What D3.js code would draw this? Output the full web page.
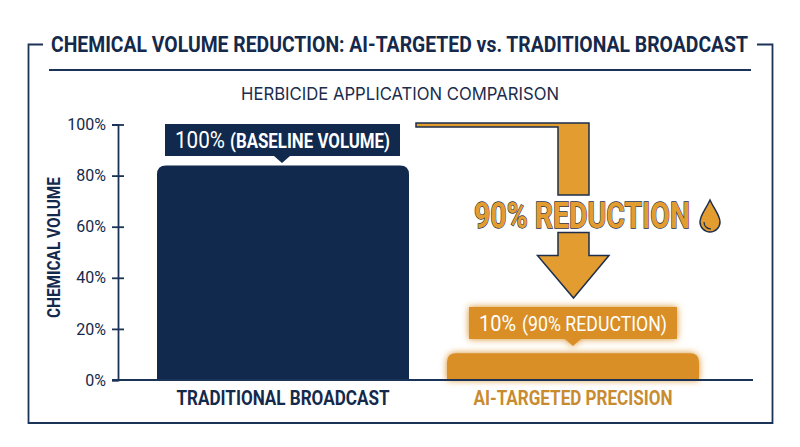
<!DOCTYPE html>
<html><head><meta charset="utf-8">
<script src="https://cdn.jsdelivr.net/npm/d3@7"></script>
<style>html,body{margin:0;background:#fff}svg{display:block}text{font-family:"Liberation Sans Narrow","Roboto",sans-serif}</style>
</head><body><svg id="c" width="800" height="447"></svg>
<script>
const categories=["TRADITIONAL BROADCAST","AI-TARGETED PRECISION"];
const barHeights=[84,10.5];
const barColors=["#10294d","#d98f27"];
const catColors=["#14294b","#c98b30"];
const ticks=[0,20,40,60,80,100];
const title="CHEMICAL VOLUME REDUCTION: AI-TARGETED vs. TRADITIONAL BROADCAST";
const subtitle="HERBICIDE APPLICATION COMPARISON";
const yTitle="CHEMICAL VOLUME";
const callout="90% REDUCTION";
const navy="#1b3357";

const svg=d3.select("#c");
const defs=svg.append("defs");
const f=defs.append("filter").attr("id","glow").attr("x","-10%").attr("y","-40%").attr("width","120%").attr("height","180%");
f.append("feGaussianBlur").attr("stdDeviation",3.5).attr("result","b");
const fm=f.append("feMerge");fm.append("feMergeNode").attr("in","b");fm.append("feMergeNode").attr("in","SourceGraphic");

const x=d3.scaleBand().domain(categories).range([138,718]).paddingInner(0.131).paddingOuter(0.0655);
const y=d3.scaleLinear().domain([0,100]).range([380,124.5]);
const fit=(s,w)=>s.attr("textLength",w).attr("lengthAdjust","spacingAndGlyphs");

// frame
svg.append("path").attr("d","M43,44.5H28.5V423H772.5V44.5H757").attr("fill","none").attr("stroke",navy).attr("stroke-width",1.8);
fit(svg.append("text").attr("x",51).attr("y",52).attr("font-size",22).attr("font-weight",700).attr("fill","#14294b").text(title),697);
svg.append("line").attr("x1",49).attr("x2",751).attr("y1",70).attr("y2",70).attr("stroke",navy).attr("stroke-width",1.8);
fit(svg.append("text").attr("x",241).attr("y",100).attr("font-size",17).attr("fill","#1b2c4c").style("font-family","Inter,'Liberation Sans'").text(subtitle),318);

// bars
const barPath=(i)=>{const x0=x(categories[i]),w=x.bandwidth(),t=y(barHeights[i]),b=y(0),r=9;
  return `M${x0},${b}V${t+r}Q${x0},${t} ${x0+r},${t}H${x0+w-r}Q${x0+w},${t} ${x0+w},${t+r}V${b}Z`;};
svg.append("g").selectAll("path").data(categories).join("path")
  .attr("d",(d,i)=>barPath(i)).attr("fill",(d,i)=>barColors[i])
  .attr("filter",(d,i)=>i==1?"url(#glow)":null);

// axis
const ax=svg.append("g").attr("transform","translate(118,0)").call(d3.axisLeft(y).tickValues(ticks).tickFormat(d=>d+"%").tickSize(6).tickPadding(6));
ax.select(".domain").attr("stroke",navy).attr("stroke-width",1.8);
ax.selectAll(".tick line").attr("x2",d=>d===0?0:6).attr("x1",-6).attr("stroke",navy).attr("stroke-width",1.8);
ax.selectAll(".tick text").attr("font-size",16).attr("font-weight",400).attr("fill","#14294b").style("font-family","'Liberation Sans Narrow',Roboto");
svg.append("line").attr("x1",112).attr("x2",753).attr("y1",y(0)).attr("y2",y(0)).attr("stroke",navy).attr("stroke-width",1.8);
fit(svg.append("text").attr("transform","translate(60,318) rotate(-90)").attr("font-size",18).attr("font-weight",700).attr("fill","#14294b").text(yTitle),141);

// category labels
svg.append("g").selectAll("text").data(categories).join("text")
  .attr("x",d=>x(d)+x.bandwidth()/2).attr("y",405).attr("text-anchor","middle")
  .attr("font-size",20.5).attr("font-weight",700).attr("fill",(d,i)=>catColors[i])
  .attr("textLength",(d,i)=>i==0?213:199).attr("lengthAdjust","spacingAndGlyphs").text(d=>d);

// value labels
svg.append("path").attr("d","M165,124H400V156H290L282,163L274,156H165Z").attr("fill","#10294d");
fit(svg.append("text").attr("x",175).attr("y",148).attr("font-size",23).attr("font-weight",400).attr("fill","#fff").text("100%"),50);
fit(svg.append("text").attr("x",230).attr("y",148).attr("font-size",20).attr("font-weight",700).attr("fill","#fff").text("(BASELINE VOLUME)"),160);
svg.append("path").attr("d","M469,307H677V339H581L573,346L565,339H469Z").attr("fill","#d98f27").attr("filter","url(#glow)");
fit(svg.append("text").attr("x",479).attr("y",331).attr("font-size",22).attr("fill","#fff").text("10%"),37);
fit(svg.append("text").attr("x",522).attr("y",331).attr("font-size",20).attr("fill","#fff").attr("font-weight",400).text("(90% REDUCTION)"),145);

// arrow
const org="#e39c2f",dk="#1d2f4d";
svg.append("path").attr("d","M416,123H589V195H558V127H416Z").attr("fill",org).attr("stroke",dk).attr("stroke-width",1.5);
svg.append("path").attr("d","M558,232.5H589V255.5H609L573.5,298L537.5,255.5H558Z").attr("fill",org).attr("stroke",dk).attr("stroke-width",1.5);
fit(svg.append("text").attr("x",474).attr("y",228).attr("font-size",36).attr("font-weight",700).attr("fill",org).attr("stroke",dk).attr("stroke-width",1.3).attr("paint-order","stroke").text(callout),216);
svg.append("path").attr("d","M710,200C714,209 720,215 720,222A10,10 0 0 1 700,222C700,215 706,209 710,200Z").attr("fill",org).attr("stroke",dk).attr("stroke-width",1.5);
svg.append("path").attr("d","M704,222C704,226 707,229 711,229").attr("fill","none").attr("stroke",dk).attr("stroke-width",1.2);
</script></body></html>
